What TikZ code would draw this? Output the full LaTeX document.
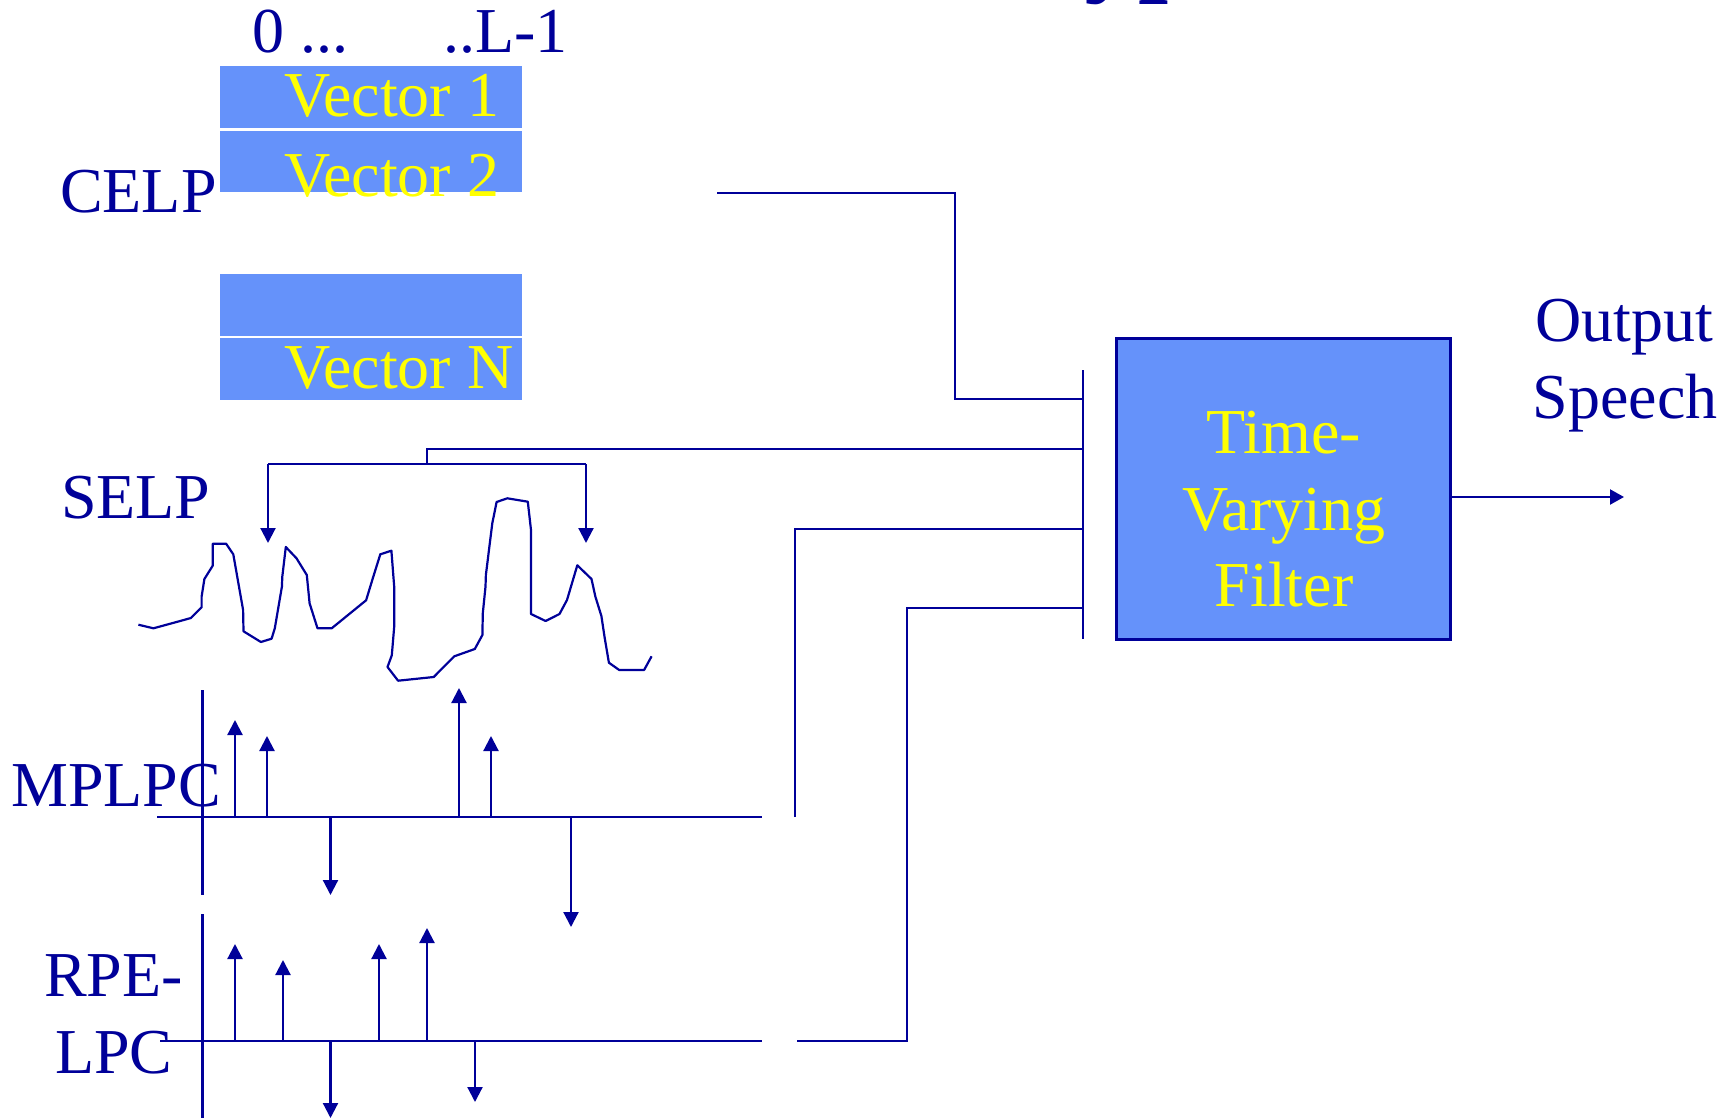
\documentclass[tikz,border=0pt]{standalone}
\usepackage{fontspec}
\setmainfont{Liberation Serif}
\usetikzlibrary{arrows.meta}
\definecolor{dkblue}{RGB}{0,0,153}
\definecolor{boxblue}{RGB}{101,146,250}
\definecolor{txtyellow}{RGB}{255,255,0}
\begin{document}
\begin{tikzpicture}[x=1pt,y=-1pt,
  wire/.style={draw=dkblue,line width=2.2pt},
  arr/.style={wire,-{Triangle[length=15pt,width=15pt]}},
  lbl/.style={text=dkblue,font=\fontsize{64}{77}\selectfont,inner sep=0pt,anchor=base west},
  clbl/.style={lbl,anchor=base},
  vtxt/.style={text=txtyellow,font=\fontsize{64}{77}\selectfont,inner sep=0pt,anchor=base west},
  ftxt/.style={vtxt,anchor=base},
  vecbox/.style={fill=boxblue,draw=none,minimum width=302pt,inner sep=0pt,outer sep=0pt},
  filterbox/.style={fill=boxblue,draw=dkblue,line width=3pt,minimum width=334pt,minimum height=301pt,inner sep=0pt}
]
\useasboundingbox (0,0) rectangle (1735,1118);

% partially visible title (clipped at the top edge, as in the reference)
\node[lbl,font=\bfseries\fontsize{108}{120}\selectfont] (title) at (1020,-18) {Types};

% ---------- CELP ----------
\node[lbl] (idx0) at (252,53) {0 ...};
\node[lbl] (idxL) at (443,53) {..L-1};
\node[vecbox,minimum height=62pt] (vec1) at (371,97) {};
\node[vecbox,minimum height=61pt] (vec2) at (371,161.5) {};
\node[vecbox,minimum height=62pt] (vec3) at (371,305) {};
\node[vecbox,minimum height=62pt] (vec4) at (371,369) {};
\node[vtxt] (v1t) at (284,117) {Vector 1};
\node[vtxt] (v2t) at (284,197) {Vector 2};
\node[vtxt] (v4t) at (284,388) {Vector N};
\node[lbl] (celp) at (60,213) {CELP};

% ---------- filter ----------
\node[filterbox] (tvf) at (1283,488.5) {};
\node[ftxt] (tvf1) at (1284,453) {Time-};
\node[ftxt] (tvf2) at (1284,530) {Varying};
\node[ftxt] (tvf3) at (1284,606) {Filter};
\node[clbl] (out1) at (1624,341) {Output};
\node[clbl] (out2) at (1625,418) {Speech};
\coordinate (outend) at (1624,497);
\draw[wire,-{Triangle[length=14pt,width=15pt]}] (tvf.east |- outend) -- (outend);

% summing bar
\coordinate (bartop) at (1083,370);
\coordinate (barbot) at (1083,639);
\draw[wire] (bartop) -- (barbot);
\coordinate (b1) at (1083,399);
\coordinate (b2) at (1083,449);
\coordinate (b3) at (1083,529);
\coordinate (b4) at (1083,608);

% CELP connector
\coordinate (celpout) at (717,193);
\draw[wire] (celpout) -- (955,193) -- (955,399) -- (b1);

% ---------- SELP ----------
\node[lbl] (selp) at (61,518) {SELP};
\coordinate (sjoin) at (427,464);
\coordinate (sl) at (268,464);
\coordinate (sr) at (586,464);
\coordinate (sltip) at (268,543);
\coordinate (srtip) at (586,543);
\draw[wire] (b2) -- (427,449) -- (sjoin);
\draw[wire] (sl) -- (sr);
\draw[arr] (sl) -- (sltip);
\draw[arr] (sr) -- (srtip);
\draw[wire,line join=round] plot coordinates {
(138.4,624.7) (153.4,628.3) (179.1,621.3) (190.9,618) (201.6,607.3) (201.6,596.7)
(204.4,579) (212.7,565.7) (212.7,543.7) (226.1,543.7) (233.3,554.3) (238.4,583.3)
(243.1,610) (243.5,631.3) (260.9,642) (271.6,638.7) (274.8,628.3) (281.9,586.7)
(282.3,576.7) (285.8,547) (296.5,558.3) (306.8,575) (309.6,603.3) (317.5,628.3)
(331.7,628.3) (366.1,600.3) (372.8,578.3) (380.3,554.3) (391.4,550.7) (394.2,586.7)
(394.2,626.7) (391.8,655.3) (387.5,667) (398.1,680.7) (433.7,677) (454.3,656.3)
(474.8,649) (482.4,635) (482.8,613.3) (485.5,586.7) (485.9,574.7) (492.3,523.3)
(496.6,502) (507.3,498.3) (527.8,501.7) (531,530) (531,614) (545.6,621)
(559.5,614) (567,600) (577.3,565.3) (591.5,579) (595.4,596.7) (601.4,616)
(604.5,636.7) (608.9,662.7) (619.2,670) (644.1,670) (651.6,656.3)};

% ---------- MPLPC ----------
\node[lbl] (mplpc) at (11,806) {MPLPC};
\coordinate (mx0) at (157,817);
\coordinate (mx1) at (762,817);
\coordinate (my0) at (202.5,690);
\coordinate (my1) at (202.5,895);
\draw[wire] (mx0) -- (mx1);
\draw[wire] (my0) -- (my1);
\foreach \n/\x/\t in {1/235/720, 2/267/736, 3/459/688, 4/491/736, 5/330.5/895, 6/571/927} {
  \coordinate (mb\n) at (\x,817);
  \coordinate (mt\n) at (\x,\t);
  \draw[arr] (mb\n) -- (mt\n);
}
\coordinate (mout) at (795,817);
\draw[wire] (mout) -- (795,529) -- (b3);

% ---------- RPE-LPC ----------
\node[lbl] (rpe1) at (44,996) {RPE-};
\node[lbl] (rpe2) at (55,1073) {LPC};
\coordinate (rx0) at (160,1041);
\coordinate (rx1) at (762,1041);
\coordinate (ry0) at (202.5,914);
\coordinate (ry1) at (202.5,1125);
\draw[wire] (rx0) -- (rx1);
\draw[wire] (ry0) -- (ry1);
\foreach \n/\x/\t in {1/235/944, 2/283/960, 3/379/944, 4/427/928, 5/330.5/1118, 6/475/1102} {
  \coordinate (rb\n) at (\x,1041);
  \coordinate (rt\n) at (\x,\t);
  \draw[arr] (rb\n) -- (rt\n);
}
\coordinate (rout) at (797,1041);
\draw[wire] (rout) -- (907,1041) -- (907,608) -- (b4);
\end{tikzpicture}
\end{document}
